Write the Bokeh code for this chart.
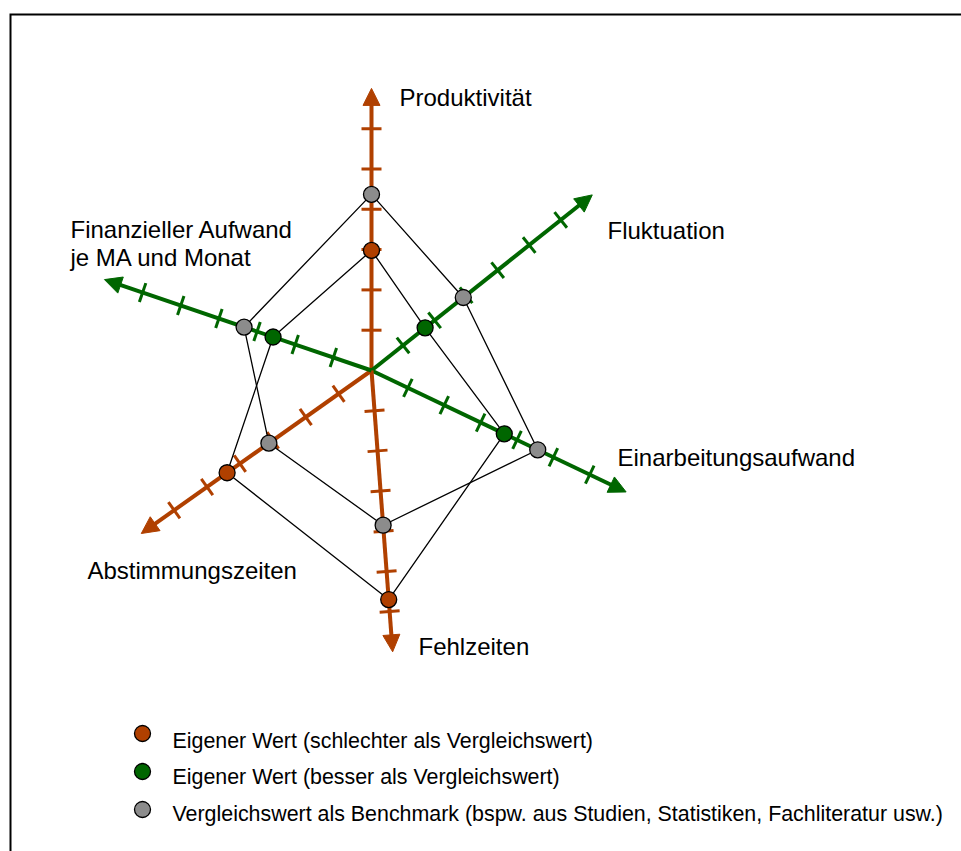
import numpy as np
from bokeh.plotting import figure
from bokeh.models import Range1d, Arrow, NormalHead
from bokeh.core.properties import value
from bokeh.embed import file_html
from bokeh.resources import INLINE

# ---------------- data ----------------
categories = ["Produktivität", "Fluktuation", "Einarbeitungsaufwand",
              "Fehlzeiten", "Abstimmungszeiten", "Finanzieller Aufwand\nje MA und Monat"]
eigener_wert = [2.98, 1.70, 3.65, 5.70, 4.39, 2.58]     # own value (tick units)
vergleichswert = [4.37, 2.91, 4.57, 3.85, 3.12, 3.34]   # benchmark (tick units)
eigener_besser = [False, True, True, False, False, True]
tick_values = [1, 2, 3, 4, 5, 6]
axis_max = 7
legend_labels = ["Eigener Wert (schlechter als Vergleichswert)",
                 "Eigener Wert (besser als Vergleichswert)",
                 "Vergleichswert als Benchmark (bspw. aus Studien, Statistiken, Fachliteratur usw.)"]

# ---------------- layout / style ----------------
W, H = 961, 851
CX, CY = 371, 370
UNIT = 40.3
ANGLES = [90, 38.5, -25.5, -85.7, 215.3, 161.2]
ORANGE = "#B04000"
GREEN = "#006600"
GRAY = "#8C8C8C"
FONT = value("Liberation Sans")
LABEL_POS = [(399, 97), (607, 230), (617, 457), (418, 646), (87, 570), (70, 229)]
LINE_GAP = 28
LEGEND_MARK_X = 142
LEGEND_TEXT_X = 172
LEGEND_MARK_Y = [733, 771, 809]
LEGEND_BASE_Y = [740, 776, 813]

p = figure(width=W, height=H, output_backend="svg", toolbar_location=None,
           x_range=Range1d(0, W), y_range=Range1d(H, 0),
           x_axis_location=None, y_axis_location=None, min_border=0)
p.grid.visible = False
p.outline_line_color = None
p.background_fill_color = "white"
p.border_fill_color = "white"

# frame (only left and top edge are visible in the reference)
p.line(x=[10, 10, 970], y=[860, 14, 14], line_color="black", line_width=2, line_join="miter")

ang = np.radians(ANGLES)
ux, uy = np.cos(ang), -np.sin(ang)
colors = [GREEN if b else ORANGE for b in eigener_besser]

# axes
HEAD = 17
ax_x1 = CX + (axis_max * UNIT - HEAD + 2) * ux
ax_y1 = CY + (axis_max * UNIT - HEAD + 2) * uy
p.segment(x0=[CX] * 6, y0=[CY] * 6, x1=ax_x1, y1=ax_y1, line_color=colors, line_width=4)
for i in range(6):
    p.add_layout(Arrow(end=NormalHead(size=HEAD, fill_color=colors[i], line_color=colors[i], line_width=1),
                       x_start=CX + (axis_max * UNIT - HEAD) * ux[i],
                       y_start=CY + (axis_max * UNIT - HEAD) * uy[i],
                       x_end=CX + axis_max * UNIT * ux[i],
                       y_end=CY + axis_max * UNIT * uy[i],
                       line_alpha=0))

# ticks
tx0, ty0, tx1, ty1, tc = [], [], [], [], []
for i in range(6):
    nx, ny = -uy[i], ux[i]
    for t in tick_values:
        px, py = CX + t * UNIT * ux[i], CY + t * UNIT * uy[i]
        tx0.append(px - 10 * nx); ty0.append(py - 10 * ny)
        tx1.append(px + 10 * nx); ty1.append(py + 10 * ny)
        tc.append(colors[i])
p.segment(x0=tx0, y0=ty0, x1=tx1, y1=ty1, line_color=tc, line_width=3)

# polygons
ev = np.array(eigener_wert); bv = np.array(vergleichswert)
ex, ey = CX + ev * UNIT * ux, CY + ev * UNIT * uy
bx, by = CX + bv * UNIT * ux, CY + bv * UNIT * uy
p.patches(xs=[list(bx), list(ex)], ys=[list(by), list(ey)], fill_color=None,
          line_color="black", line_width=1.3)

# points
p.scatter(x=bx, y=by, size=16, fill_color=GRAY, line_color="black", line_width=1.3)
p.scatter(x=ex, y=ey, size=16, fill_color=colors, line_color="black", line_width=1.3)

# category labels
lx, ly, lt = [], [], []
for i, cat in enumerate(categories):
    for j, line in enumerate(cat.split("\n")):
        lx.append(LABEL_POS[i][0]); ly.append(LABEL_POS[i][1] + j * LINE_GAP); lt.append(line)
p.text(x=lx, y=ly, text=lt, text_font=FONT, text_font_size="24px", text_color="black",
       text_align="left", text_baseline="alphabetic")

# legend
p.scatter(x=[LEGEND_MARK_X] * 3, y=LEGEND_MARK_Y, size=16,
          fill_color=[ORANGE, GREEN, GRAY], line_color="black", line_width=1.3)
p.text(x=[LEGEND_TEXT_X] * 3, y=LEGEND_BASE_Y, text=legend_labels, text_font=FONT,
       text_font_size="21.4px", text_color="black", text_align="left", text_baseline="alphabetic")

open("out.html", "w").write(file_html(p, INLINE))
